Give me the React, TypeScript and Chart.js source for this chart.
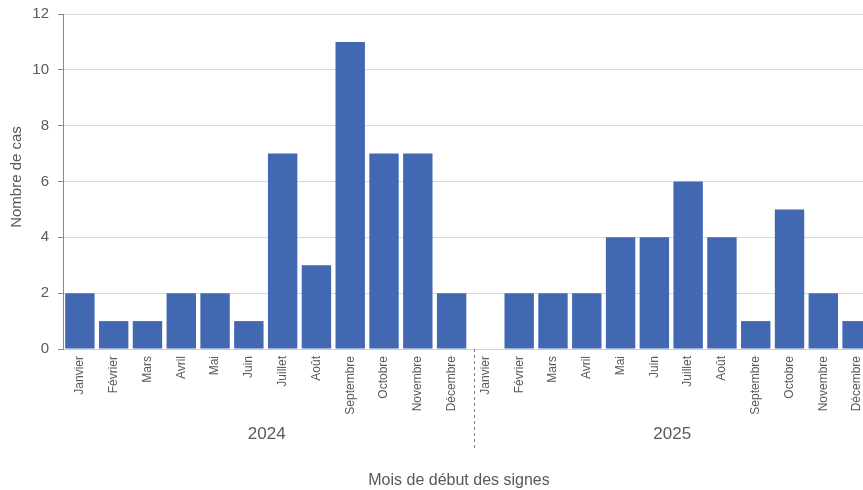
import React, { useEffect, useRef } from "react";
import { Chart, registerables } from "chart.js";

Chart.register(...registerables);

const months = [
  "Janvier", "Février", "Mars", "Avril", "Mai", "Juin",
  "Juillet", "Août", "Septembre", "Octobre", "Novembre", "Décembre",
];
const years = ["2024", "2025"];
const cases2024 = [2, 1, 1, 2, 2, 1, 7, 3, 11, 7, 7, 2];
const cases2025 = [0, 2, 2, 2, 4, 4, 6, 4, 1, 5, 2, 1];
const yTicks = [0, 2, 4, 6, 8, 10, 12];
const xTitle = "Mois de début des signes";
const yTitle = "Nombre de cas";

const FONT = "'Liberation Sans', Arial, sans-serif";
const TEXT = "#595959";

const yearPlugin = {
  id: "yearGroups",
  afterDraw(chart: any) {
    const { ctx, chartArea } = chart;
    const xs = chart.scales.x;
    const n = months.length;
    const step = xs.getPixelForValue(1) - xs.getPixelForValue(0);
    ctx.save();
    // separators
    ctx.strokeStyle = "#7f7f7f";
    ctx.lineWidth = 1;
    ctx.setLineDash([3, 3]);
    for (let g = 1; g < years.length; g++) {
      const x = Math.round(xs.getPixelForValue(g * n - 1) + step * 0.65) + 0.5;
      ctx.beginPath();
      ctx.moveTo(x, chartArea.bottom);
      ctx.lineTo(x, 448);
      ctx.stroke();
    }
    ctx.setLineDash([]);
    // year labels
    ctx.fillStyle = TEXT;
    ctx.font = `17px ${FONT}`;
    ctx.textAlign = "center";
    ctx.textBaseline = "middle";
    years.forEach((y, g) => {
      const a = xs.getPixelForValue(g * n);
      const b = xs.getPixelForValue(g * n + n - 1);
      ctx.fillText(y, (a + b) / 2 + 1, 434);
    });
    // x title
    ctx.font = `16px ${FONT}`;
    ctx.fillText(xTitle, 459, 481);
    // y title
    ctx.font = `15px ${FONT}`;
    ctx.translate(17, 177);
    ctx.rotate(-Math.PI / 2);
    ctx.fillText(yTitle, 0, 0);
    ctx.restore();
  },
};

export default function App() {
  const ref = useRef<HTMLCanvasElement | null>(null);

  useEffect(() => {
    document.body.style.margin = "0";
    document.body.style.overflow = "hidden";
    document.documentElement.style.overflow = "hidden";
    const labels = [...months, ...months];
    const values = [...cases2024, ...cases2025];
    const chart = new Chart(ref.current as HTMLCanvasElement, {
      type: "bar",
      data: {
        labels,
        datasets: [
          {
            data: values,
            backgroundColor: "#4168B1",
            barPercentage: 0.87,
            categoryPercentage: 1,
          },
        ],
      },
      options: {
        animation: false,
        responsive: false,
        maintainAspectRatio: false,
        layout: { padding: { top: 14, left: 0, right: 0, bottom: 0 } },
        plugins: {
          legend: { display: false },
          tooltip: { enabled: false },
        },
        scales: {
          x: {
            grid: { display: false, drawTicks: false },
            border: { display: true, color: "#d0d0d0" },
            ticks: {
              autoSkip: false,
              minRotation: 90,
              maxRotation: 90,
              padding: 7,
              color: TEXT,
              font: { family: FONT, size: 12 },
            },
            afterFit(scale: any) {
              scale.height = 141;
              scale.paddingLeft = 0;
              scale.paddingRight = 0;
            },
          },
          y: {
            min: 0,
            max: 12,
            afterBuildTicks(scale: any) {
              scale.ticks = yTicks.map((v) => ({ value: v }));
            },
            grid: {
              color: "#d9d9d9",
              tickColor: "#8a8a8a",
              tickLength: 5,
            },
            border: { display: true, color: "#8a8a8a" },
            ticks: {
              padding: 9,
              color: TEXT,
              font: { family: FONT, size: 15 },
            },
            afterFit(scale: any) {
              scale.width = 63;
              scale.paddingTop = 0;
              scale.paddingBottom = 0;
            },
          },
        },
      },
      plugins: [yearPlugin],
    });
    return () => chart.destroy();
  }, []);

  return (
    <div style={{ position: "fixed", left: 0, top: 0, width: 874, height: 490 }}>
      <canvas ref={ref} width={874} height={490} style={{ width: 874, height: 490 }} />
    </div>
  );
}
